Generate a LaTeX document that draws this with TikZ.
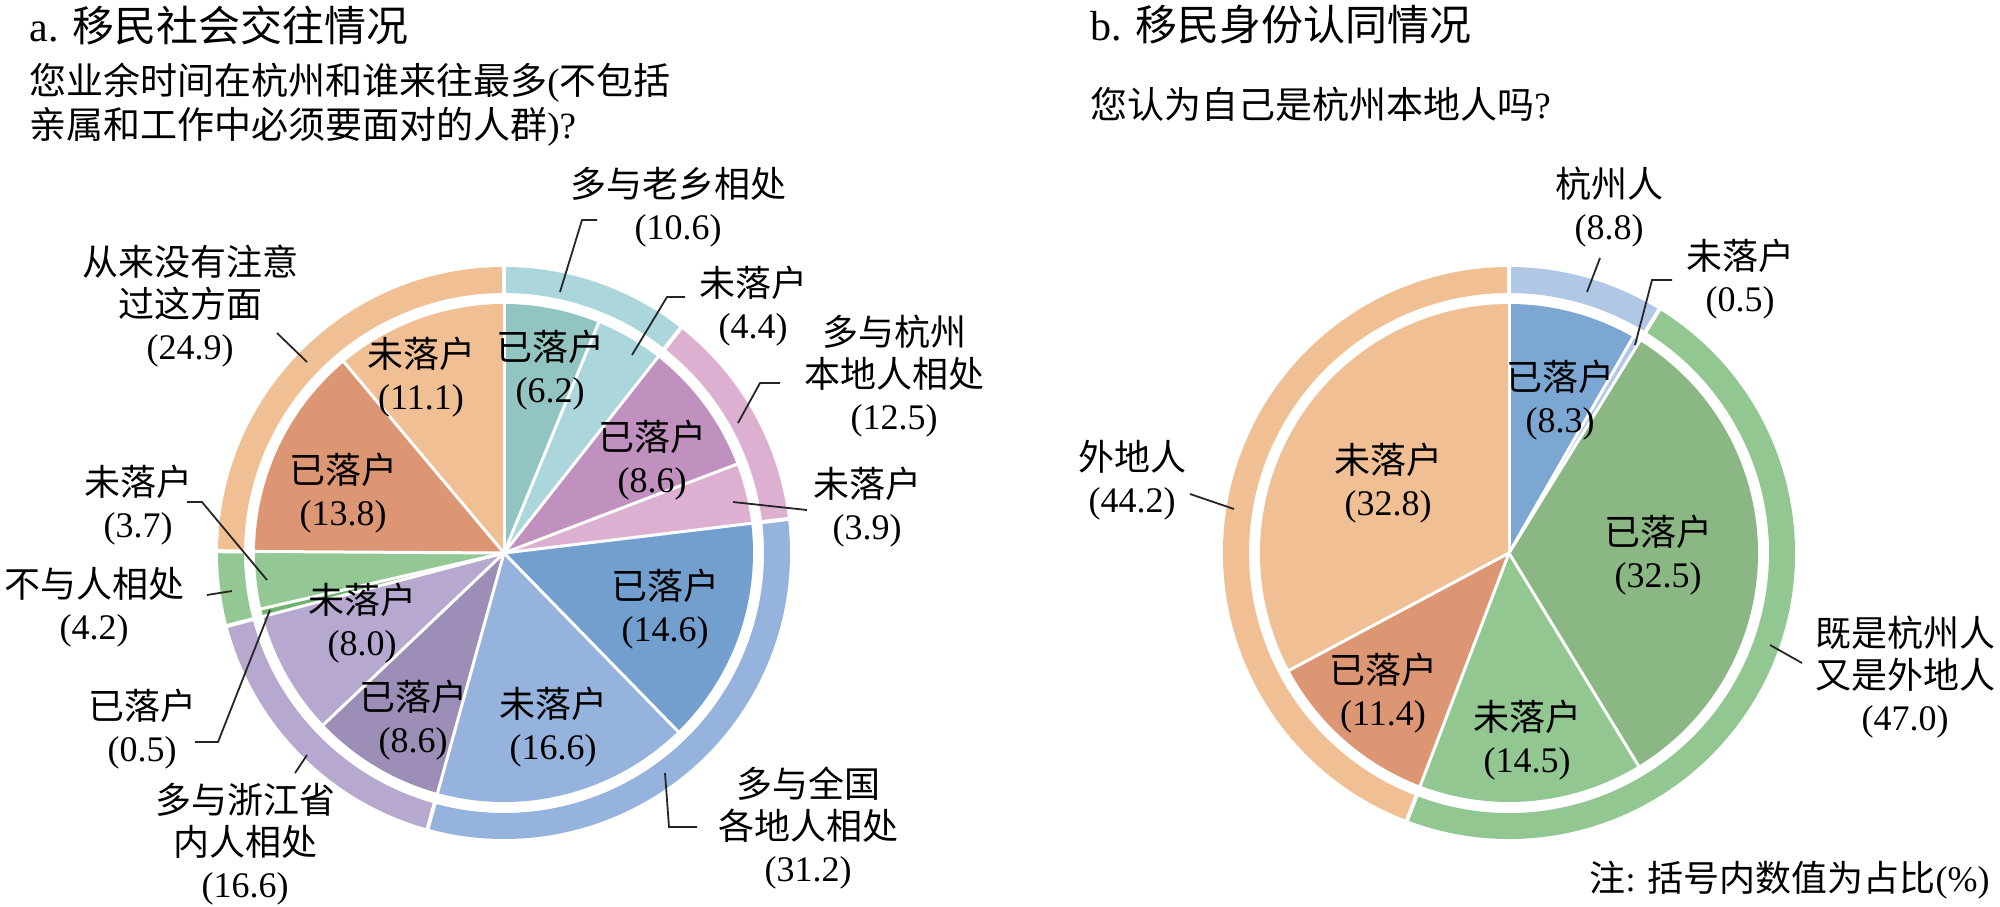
\documentclass[tikz,border=0pt]{standalone}
\usepackage{fontspec}
\setmainfont{Liberation Serif}
\newfontfamily\zhfont{Noto Sans CJK SC}
\newcommand\zhtxt[1]{{\zhfont #1}}
\definecolor{orL}{HTML}{F0BF93}
\definecolor{orD}{HTML}{DD9673}
\definecolor{tealD}{HTML}{92C5C2}
\definecolor{tealL}{HTML}{AAD6DC}
\definecolor{pinkD}{HTML}{C090BE}
\definecolor{pinkL}{HTML}{DDB0D1}
\definecolor{blueD}{HTML}{729FCD}
\definecolor{blueL}{HTML}{95B3DC}
\definecolor{lavD}{HTML}{9D8EB7}
\definecolor{lavL}{HTML}{B7A8D0}
\definecolor{grnD}{HTML}{6FB470}
\definecolor{grnL}{HTML}{93C793}
\definecolor{rblueD}{HTML}{7BA7D2}
\definecolor{rblueL}{HTML}{B0C7E6}
\definecolor{rgrnD}{HTML}{8AB783}
\definecolor{rgrnL}{HTML}{93C792}
\def\pRin{249}
\def\pRmid{260}
\def\pRout{286}
\newcommand\pslice[3]{\fill[#3] (0,0) -- ({-90+3.6*#1}:\pRin) arc[start angle={-90+3.6*#1}, end angle={-90+3.6*#2}, radius=\pRin] -- cycle;}
\newcommand\rseg[3]{\fill[#3] ({-90+3.6*#1}:\pRout) arc[start angle={-90+3.6*#1}, end angle={-90+3.6*#2}, radius=\pRout] -- ({-90+3.6*#2}:\pRmid) arc[start angle={-90+3.6*#2}, end angle={-90+3.6*#1}, radius=\pRmid] -- cycle;}
\newcommand\wsep[1]{\draw[sepline] (0,0) -- ({-90+3.6*#1}:252);}
\newcommand\rsep[1]{\draw[ringsep] ({-90+3.6*#1}:255) -- ({-90+3.6*#1}:292);}
\begin{document}
\begin{tikzpicture}[x=0.5pt,y=-0.5pt,
  lab/.style={align=center, font=\fontsize{18}{21}\selectfont, inner sep=0pt},
  ttl/.style={font=\fontsize{21}{25}\selectfont, inner sep=0pt, anchor=west},
  qst/.style={font=\fontsize{18.5}{22}\selectfont, inner sep=0pt, anchor=west, align=left},
  sepline/.style={draw=white, line width=1.5pt},
  ringsep/.style={draw=white, line width=2pt},
  lead/.style={draw=black!85, line width=0.9pt}]
\useasboundingbox (0,0) rectangle (2000,906);
\fill[white] (0,0) rectangle (2000,906);

% ---------------- left pie ----------------
\begin{scope}[shift={(504,553)}]
\pslice{0}{6.2}{tealD}
\pslice{6.2}{10.6}{tealL}
\pslice{10.6}{19.2}{pinkD}
\pslice{19.2}{23.1}{pinkL}
\pslice{23.1}{37.7}{blueD}
\pslice{37.7}{54.3}{blueL}
\pslice{54.3}{62.9}{lavD}
\pslice{62.9}{70.9}{lavL}
\pslice{70.9}{71.4}{grnD}
\pslice{71.4}{75.1}{grnL}
\pslice{75.1}{88.9}{orD}
\pslice{88.9}{100}{orL}
\rseg{0}{10.6}{tealL}
\rseg{10.6}{23.1}{pinkL}
\rseg{23.1}{54.3}{blueL}
\rseg{54.3}{70.9}{lavL}
\rseg{70.9}{75.1}{grnL}
\rseg{75.1}{100}{orL}
\foreach \p in {0,6.2,10.6,19.2,23.1,37.7,54.3,62.9,70.9,71.4,75.1,88.9} {\wsep{\p}}
\foreach \p in {0,10.6,23.1,54.3,70.9,75.1} {\rsep{\p}}
\end{scope}

% ---------------- right pie ----------------
\begin{scope}[shift={(1509,553)}]
\pslice{0}{8.3}{rblueD}
\pslice{8.3}{8.8}{rblueL}
\pslice{8.8}{41.3}{rgrnD}
\pslice{41.3}{55.8}{rgrnL}
\pslice{55.8}{67.2}{orD}
\pslice{67.2}{100}{orL}
\rseg{0}{8.8}{rblueL}
\rseg{8.8}{55.8}{rgrnL}
\rseg{55.8}{100}{orL}
\foreach \p in {0,8.3,8.8,41.3,55.8,67.2} {\wsep{\p}}
\foreach \p in {0,8.8,55.8} {\rsep{\p}}
\end{scope}

% ---------------- titles ----------------
\node[ttl] (ta) at (29,25) {a. \zhtxt{移民社会交往情况}};
\node[qst] (qa) at (29,105) {\zhtxt{您业余时间在杭州和谁来往最多}(\zhtxt{不包括}\\\zhtxt{亲属和工作中必须要面对的人群})?};
\node[ttl] (tb) at (1090,25) {b. \zhtxt{移民身份认同情况}};
\node[qst] (qb) at (1090,104) {\zhtxt{您认为自己是杭州本地人吗}?};
\node[lab, anchor=east] (note) at (1990,880) {\zhtxt{注}: \zhtxt{括号内数值为占比}(\%)};

% ---------------- left inner labels ----------------
\node[lab] (i1) at (550,370) {\zhtxt{已落户}\\(6.2)};
\node[lab] (i2) at (421,377) {\zhtxt{未落户}\\(11.1)};
\node[lab] (i3) at (343,493) {\zhtxt{已落户}\\(13.8)};
\node[lab] (i4) at (652,460) {\zhtxt{已落户}\\(8.6)};
\node[lab] (i5) at (665,609) {\zhtxt{已落户}\\(14.6)};
\node[lab] (i6) at (553,727) {\zhtxt{未落户}\\(16.6)};
\node[lab] (i7) at (413,720) {\zhtxt{已落户}\\(8.6)};
\node[lab] (i8) at (362,623) {\zhtxt{未落户}\\(8.0)};

% ---------------- left outer labels ----------------
\node[lab] (o1) at (678,207) {\zhtxt{多与老乡相处}\\(10.6)};
\node[lab] (o2) at (753,306) {\zhtxt{未落户}\\(4.4)};
\node[lab] (o3) at (894,376) {\zhtxt{多与杭州}\\\zhtxt{本地人相处}\\(12.5)};
\node[lab] (o4) at (867,507) {\zhtxt{未落户}\\(3.9)};
\node[lab] (o5) at (808,828) {\zhtxt{多与全国}\\\zhtxt{各地人相处}\\(31.2)};
\node[lab] (o6) at (245,844) {\zhtxt{多与浙江省}\\\zhtxt{内人相处}\\(16.6)};
\node[lab] (o7) at (142,729) {\zhtxt{已落户}\\(0.5)};
\node[lab] (o8) at (94,607) {\zhtxt{不与人相处}\\(4.2)};
\node[lab] (o9) at (138,505) {\zhtxt{未落户}\\(3.7)};
\node[lab] (o10) at (190,306) {\zhtxt{从来没有注意}\\\zhtxt{过这方面}\\(24.9)};

% ---------------- right labels ----------------
\node[lab] (j1) at (1560,400) {\zhtxt{已落户}\\(8.3)};
\node[lab] (j2) at (1388,483) {\zhtxt{未落户}\\(32.8)};
\node[lab] (j3) at (1658,555) {\zhtxt{已落户}\\(32.5)};
\node[lab] (j4) at (1383,693) {\zhtxt{已落户}\\(11.4)};
\node[lab] (j5) at (1527,740) {\zhtxt{未落户}\\(14.5)};
\node[lab] (p1) at (1609,207) {\zhtxt{杭州人}\\(8.8)};
\node[lab] (p2) at (1740,279) {\zhtxt{未落户}\\(0.5)};
\node[lab] (p3) at (1132,480) {\zhtxt{外地人}\\(44.2)};
\node[lab] (p4) at (1905,677) {\zhtxt{既是杭州人}\\\zhtxt{又是外地人}\\(47.0)};

% ---------------- leader lines ----------------
\coordinate (a1) at (560,292); \coordinate (b1) at (582,220); \coordinate (c1) at (597,220);
\draw[lead] (a1) -- (b1) -- (c1);
\coordinate (a2) at (632,355); \coordinate (b2) at (667,297); \coordinate (c2) at (685,297);
\draw[lead] (a2) -- (b2) -- (c2);
\coordinate (a3) at (738,423); \coordinate (b3) at (760,383); \coordinate (c3) at (780,383);
\draw[lead] (a3) -- (b3) -- (c3);
\coordinate (a4) at (733,502); \coordinate (b4) at (807,510);
\draw[lead] (a4) -- (b4);
\coordinate (a5) at (665,773); \coordinate (b5) at (669,827); \coordinate (c5) at (697,827);
\draw[lead] (a5) -- (b5) -- (c5);
\coordinate (a6) at (307,755); \coordinate (b6) at (295,773);
\draw[lead] (a6) -- (b6);
\coordinate (a7) at (270,610); \coordinate (b7) at (218,742); \coordinate (c7) at (195,742);
\draw[lead] (a7) -- (b7) -- (c7);
\coordinate (a8) at (232,591); \coordinate (b8) at (207,595);
\draw[lead] (a8) -- (b8);
\coordinate (a9) at (267,580); \coordinate (b9) at (202,502); \coordinate (c9) at (187,502);
\draw[lead] (a9) -- (b9) -- (c9);
\coordinate (a10) at (307,362); \coordinate (b10) at (277,333);
\draw[lead] (a10) -- (b10);
\coordinate (a11) at (1234,509); \coordinate (b11) at (1190,494);
\draw[lead] (a11) -- (b11);
\coordinate (a12) at (1587,292); \coordinate (b12) at (1600,258);
\draw[lead] (a12) -- (b12);
\coordinate (a13) at (1635,345); \coordinate (b13) at (1652,280); \coordinate (c13) at (1672,280);
\draw[lead] (a13) -- (b13) -- (c13);
\coordinate (a14) at (1770,645); \coordinate (b14) at (1802,663);
\draw[lead] (a14) -- (b14);
\end{tikzpicture}
\end{document}
